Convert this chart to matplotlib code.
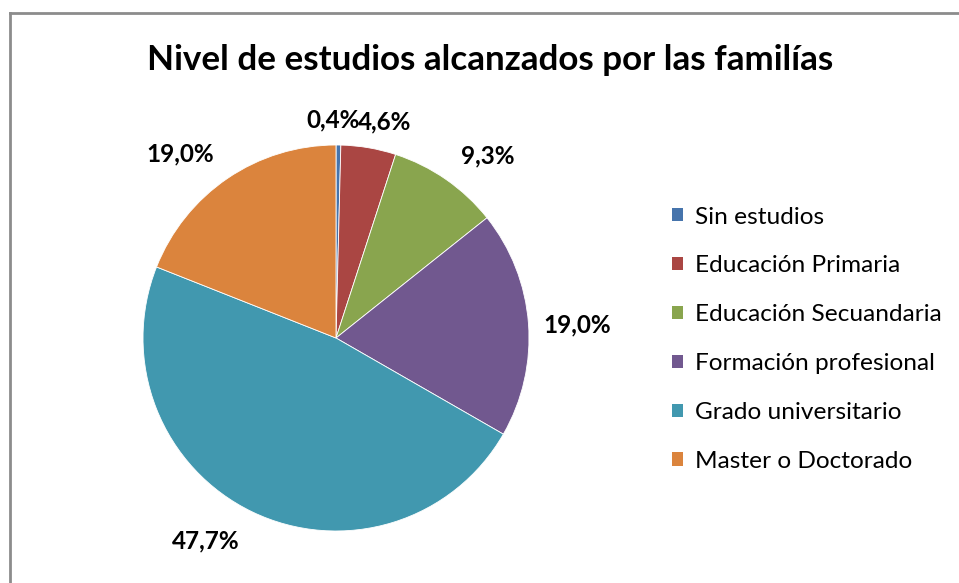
import numpy as np
import matplotlib
matplotlib.use("Agg")
import matplotlib.pyplot as plt
from matplotlib.lines import Line2D

categories = ["Sin estudios", "Educación Primaria", "Educación Secuandaria",
              "Formación profesional", "Grado universitario", "Master o Doctorado"]
values = [0.4, 4.6, 9.3, 19.0, 47.7, 19.0]
labels = ["0,4%", "4,6%", "9,3%", "19,0%", "47,7%", "19,0%"]
colors = ["#4674AC", "#AA4643", "#89A54E", "#71588F", "#4198AF", "#DB843D"]
title = "Nivel de estudios alcanzados por las familías"

# label placement styles (radius factor, angular offset in degrees, clockwise)
lab_r = [1.13, 1.15, 1.23, 1.25, 1.25, 1.25]
lab_off = [-1.5, 3.0, 5.0, 1.2, 7.0, -6.0]

W, H = 959, 583
fig = plt.figure(figsize=(W / 100, H / 100), dpi=100)
fig.patch.set_facecolor("white")

cx, cy, R = 336, 338, 193
ax = fig.add_axes([(cx - R) / W, (H - cy - R) / H, 2 * R / W, 2 * R / H])
wedges, _ = ax.pie(values, colors=colors, startangle=90, counterclock=False,
                   radius=1.0, wedgeprops=dict(linewidth=0.6, edgecolor="white"))
ax.set_xlim(-1, 1)
ax.set_ylim(-1, 1)
ax.set_aspect("equal")
ax.axis("off")

font = "Lato"
total = sum(values)
cum = 0.0
for v, lab, r, off in zip(values, labels, lab_r, lab_off):
    mid = (cum + v / 2) / total * 360.0 + off
    cum += v
    ang = np.deg2rad(90 - mid)
    ax.text(r * np.cos(ang), r * np.sin(ang), lab, ha="center", va="center",
            fontsize=17.5, fontweight="bold", family=font, color="black")

fig.text(490 / W, 1 - 60 / H, title, ha="center", va="center",
         fontsize=25.2, fontweight="bold", family=font, color="black")

leg = fig.legend(wedges, categories, loc="upper left",
                 bbox_to_anchor=(672 / W, 1 - 206.5 / H), bbox_transform=fig.transFigure,
                 frameon=False, prop=dict(family=font, size=17.6),
                 handlelength=0.46, handleheight=0.46, handletextpad=0.5,
                 labelspacing=1.14, borderpad=0, borderaxespad=0)
for h in leg.legend_handles:
    h.set_linewidth(0)

# chart border (top and left visible)
fig.add_artist(Line2D([10 / W, 1.0], [1 - 13 / H, 1 - 13 / H], color="#8c8c8c", lw=2,
                      transform=fig.transFigure))
fig.add_artist(Line2D([10 / W, 10 / W], [0, 1 - 13 / H], color="#8c8c8c", lw=2,
                      transform=fig.transFigure))

fig.savefig("out.png", dpi=100)
